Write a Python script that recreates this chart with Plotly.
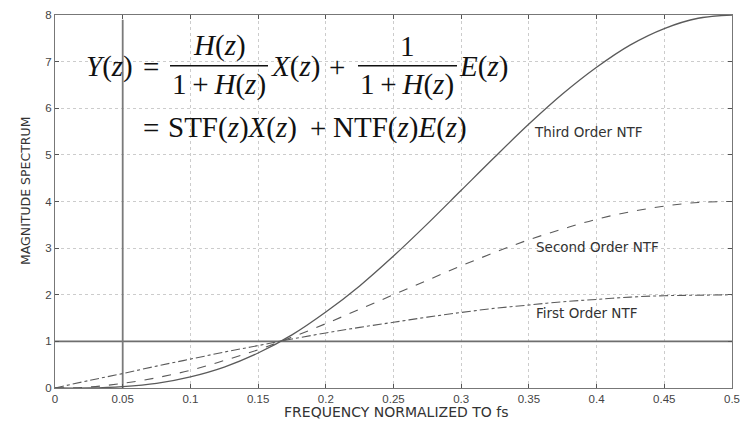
import plotly.graph_objects as go

# ---- data ----
freq = [0, 0.025, 0.05, 0.075, 0.1, 0.125, 0.15, 0.175, 0.2, 0.225, 0.25,
        0.275, 0.3, 0.325, 0.35, 0.375, 0.4, 0.425, 0.45, 0.475, 0.5]
first_order = [0, 0.16, 0.31, 0.47, 0.62, 0.77, 0.91, 1.05, 1.18, 1.30, 1.41,
               1.52, 1.62, 1.71, 1.78, 1.85, 1.90, 1.95, 1.98, 1.99, 2.0]
second_order = [0, 0.02, 0.10, 0.22, 0.38, 0.59, 0.82, 1.09, 1.38, 1.69, 2.0,
                2.31, 2.62, 2.91, 3.18, 3.41, 3.62, 3.78, 3.90, 3.98, 4.0]
third_order = [0, 0.00, 0.03, 0.10, 0.24, 0.45, 0.75, 1.14, 1.63, 2.19, 2.83,
               3.52, 4.24, 4.96, 5.66, 6.31, 6.88, 7.36, 7.71, 7.93, 8.0]
stf_x = [0, 0.5]
stf_y = [1, 1]
band_x = [0.05, 0.05]
band_y = [0, 7.9]
x_ticks = [0, 0.05, 0.1, 0.15, 0.2, 0.25, 0.3, 0.35, 0.4, 0.45, 0.5]
x_ticktext = ["0", "0.05", "0.1", "0.15", "0.2", "0.25", "0.3", "0.35", "0.4", "0.45", "0.5"]
y_ticks = [0, 1, 2, 3, 4, 5, 6, 7, 8]
labels = ["Third Order NTF", "Second Order NTF", "First Order NTF"]
x_title = "FREQUENCY NORMALIZED TO fs"
y_title = "MAGNITUDE SPECTRUM"

LINE = "#5a5a5a"

fig = go.Figure()
fig.add_trace(go.Scatter(x=stf_x, y=stf_y, mode="lines",
                         line=dict(color="#6e6e6e", width=1.6), hoverinfo="skip"))
fig.add_trace(go.Scatter(x=band_x, y=band_y, mode="lines",
                         line=dict(color="#7a7a7a", width=1.8), hoverinfo="skip"))
fig.add_trace(go.Scatter(x=freq, y=first_order, mode="lines", line_shape="spline",
                         line=dict(color=LINE, width=1.1, dash="dashdot")))
fig.add_trace(go.Scatter(x=freq, y=second_order, mode="lines", line_shape="spline",
                         line=dict(color=LINE, width=1.1, dash="dash")))
fig.add_trace(go.Scatter(x=freq, y=third_order, mode="lines", line_shape="spline",
                         line=dict(color=LINE, width=1.3)))

# curve labels
lab_font = dict(family="DejaVu Sans, Verdana", size=13.5, color="#333333")
fig.add_annotation(x=0.352, y=5.5, text=labels[0], showarrow=False,
                   xanchor="left", yanchor="middle", font=lab_font)
fig.add_annotation(x=0.354, y=3.02, text=labels[1], showarrow=False,
                   xanchor="left", yanchor="middle", font=lab_font)
fig.add_annotation(x=0.354, y=1.6, text=labels[2], showarrow=False,
                   xanchor="left", yanchor="middle", font=lab_font)

# ---- equation (pixel-based placement converted to data coords) ----
def dx(px):
    return (px - 55) / 1354.0

def dy(py):
    return (388 - py) / 46.6

eq_font = dict(family="Liberation Serif, Times New Roman, serif", size=29, color="#111111")

def eq(px, py, text, anchor="left"):
    fig.add_annotation(x=dx(px), y=dy(py), text=text, showarrow=False,
                       xanchor=anchor, yanchor="middle", font=eq_font)

Z = "(<i>z</i>)"
S = "&#8201;"  # thin space
L1, NUM, DEN, L2 = 67, 46, 85, 128
eq(84, L1, "<i>Y</i>" + Z)
eq(151, L1, "=", "center")
eq(219, NUM, "<i>H</i>" + Z, "center")
eq(219, DEN, "1" + S + "+" + S + "<i>H</i>" + Z, "center")
eq(269, L1, "<i>X</i>" + Z)
eq(337, L1, "+", "center")
eq(407, NUM, "1", "center")
eq(407, DEN, "1" + S + "+" + S + "<i>H</i>" + Z, "center")
eq(457, L1, "<i>E</i>" + Z)
eq(151, L2, "=", "center")
eq(166, L2, "STF" + Z + "<i>X</i>" + Z)
eq(318, L2, "+", "center")
eq(331, L2, "NTF" + Z + "<i>E</i>" + Z)

for x0, x1 in [(170, 268), (358, 457)]:
    fig.add_shape(type="line", x0=dx(x0), x1=dx(x1), y0=dy(66), y1=dy(66),
                  line=dict(color="#111111", width=1.5))

# axis titles
fig.add_annotation(xref="paper", yref="paper", x=(396 - 55) / 677, y=-(412 - 388) / 373,
                   text=x_title, showarrow=False, xanchor="center", yanchor="middle",
                   font=dict(family="DejaVu Sans, Verdana", size=14, color="#333333"))
fig.add_annotation(xref="paper", yref="paper", x=(25 - 55) / 677, y=(388 - 191) / 373,
                   text=y_title, showarrow=False, xanchor="center", yanchor="middle",
                   textangle=-90,
                   font=dict(family="DejaVu Sans, Verdana", size=12.5, color="#333333"))

axis_common = dict(showline=True, linecolor="#777777", linewidth=1.3, mirror="ticks",
                   ticks="inside", ticklen=4, tickcolor="#555555",
                   showgrid=True, gridcolor="#cccccc", griddash="dot", gridwidth=1,
                   zeroline=False, automargin=False,
                   tickfont=dict(family="Liberation Sans, Arial", size=11.5, color="#444444"))

fig.update_xaxes(range=[0, 0.5], tickvals=x_ticks, ticktext=x_ticktext, **axis_common)
fig.update_yaxes(range=[0, 8], tickvals=y_ticks, **axis_common)

fig.update_layout(width=752, height=422, showlegend=False,
                  margin=dict(l=55, r=20, t=15, b=34),
                  paper_bgcolor="white", plot_bgcolor="white")

fig.write_html("out.html")
